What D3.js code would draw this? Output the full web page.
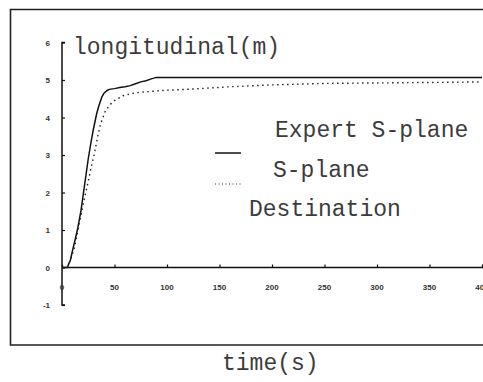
<!DOCTYPE html>
<html>
<head>
<meta charset="utf-8">
<script src="https://cdn.jsdelivr.net/npm/d3@7"></script>
<style>
html,body{margin:0;padding:0;background:#fff;}
svg{display:block;}
</style>
</head>
<body>
<svg id="chart" width="483" height="382"></svg>
<script>
// ---- data ----
const expertT = [0, 5, 8, 10, 13, 15, 18, 20, 23, 25, 28, 30, 33, 35, 38, 40, 43, 45, 50, 55, 60, 65, 70, 75, 80, 85, 90, 400];
const expertY = [0, 0, 0.2, 0.45, 0.8, 1.05, 1.5, 1.9, 2.5, 2.9, 3.4, 3.7, 4.1, 4.3, 4.55, 4.65, 4.72, 4.75, 4.77, 4.8, 4.82, 4.85, 4.9, 4.95, 4.98, 5.03, 5.07, 5.07];
const splaneT = [0, 5, 8, 12, 16, 21, 25, 28, 31, 34, 37, 41, 45, 50, 58, 70, 95, 125, 160, 200, 253, 372, 400];
const splaneY = [0, 0, 0.2, 0.55, 1.1, 1.8, 2.3, 2.7, 3.05, 3.5, 3.85, 4.15, 4.32, 4.45, 4.58, 4.66, 4.72, 4.76, 4.82, 4.87, 4.91, 4.94, 4.95];
const xTicks = [0, 50, 100, 150, 200, 250, 300, 350, 400];
const yTicks = [-1, 0, 1, 2, 3, 4, 5, 6];
const legendLabels = ["Expert S-plane", "S-plane", "Destination"];
const titleText = "longitudinal(m)";
const xLabelText = "time(s)";

// ---- drawing ----
const svg = d3.select("#chart");
const x = d3.scaleLinear().domain([0, 400]).range([62, 482]);
const y = d3.scaleLinear().domain([0, 5]).range([267.5, 80]);

// outer frame
svg.append("path")
  .attr("d", "M 490 9.5 L 10.5 9.5 L 10.5 345 L 490 345")
  .attr("fill", "none").attr("stroke", "#222").attr("stroke-width", 1.6);

// y axis
const yAxis = d3.axisRight(y).tickValues(yTicks).tickSize(3).tickFormat("");
const gy = svg.append("g").attr("transform", `translate(${x(0)},0)`).call(yAxis);
gy.select(".domain").attr("d", `M 3 ${y(6)} H 0 V ${y(-1)} H 3`).attr("stroke", "#111").attr("stroke-width", 1.5);
gy.selectAll(".tick line").attr("stroke", "#111").attr("stroke-width", 1.2);

// y tick labels
svg.append("g").selectAll("text").data(yTicks).join("text")
  .attr("x", 50).attr("y", d => y(d) + 3)
  .attr("text-anchor", "end")
  .attr("font-family", "Liberation Sans, Arial, sans-serif")
  .attr("font-size", 8).attr("font-weight", "bold").attr("fill", "#333")
  .text(d => d === -1 ? "-1" : d);

// x axis
const xAxis = d3.axisTop(x).tickValues(xTicks).tickSize(3).tickFormat("");
const gx = svg.append("g").attr("transform", `translate(0,${y(0)})`).call(xAxis);
gx.select(".domain").attr("d", `M ${x(0)} 0 H 483`).attr("stroke", "#111").attr("stroke-width", 1.5);
gx.selectAll(".tick line").attr("stroke", "#111").attr("stroke-width", 1.2);

svg.append("g").selectAll("text").data(xTicks).join("text")
  .attr("x", d => x(d)).attr("y", y(0) + 22)
  .attr("text-anchor", "middle")
  .attr("font-family", "Liberation Sans, Arial, sans-serif")
  .attr("font-size", 8).attr("font-weight", "bold").attr("fill", "#333")
  .text(d => d);

// curves
const line = d3.line().x(d => x(d[0])).y(d => y(d[1]));
svg.append("path")
  .datum(expertT.map((t, i) => [t, expertY[i]]))
  .attr("d", line).attr("fill", "none").attr("stroke", "#111").attr("stroke-width", 1.5);
svg.append("path")
  .datum(splaneT.map((t, i) => [t, splaneY[i]]))
  .attr("d", line).attr("fill", "none").attr("stroke", "#222").attr("stroke-width", 1.4)
  .attr("stroke-dasharray", "1.5,3.5");

// text style
const mono = "Liberation Mono, Courier New, monospace";
const txt = (s, xx, yy, size) => svg.append("text").attr("x", xx).attr("y", yy)
  .attr("font-family", mono).attr("font-size", size).attr("fill", "#3c3c3c").text(s);

txt(titleText, 73, 54, 23);
txt(legendLabels[0], 275, 137, 23);
txt(legendLabels[1], 273, 177, 23);
txt(legendLabels[2], 249, 216, 23);
txt(xLabelText, 222, 370, 23);

// legend samples
svg.append("line").attr("x1", 215).attr("x2", 241).attr("y1", 153).attr("y2", 153)
  .attr("stroke", "#111").attr("stroke-width", 1.5);
svg.append("line").attr("x1", 215).attr("x2", 241).attr("y1", 184).attr("y2", 184)
  .attr("stroke", "#333").attr("stroke-width", 1.2).attr("stroke-dasharray", "1,2.5");
</script>
</body>
</html>
